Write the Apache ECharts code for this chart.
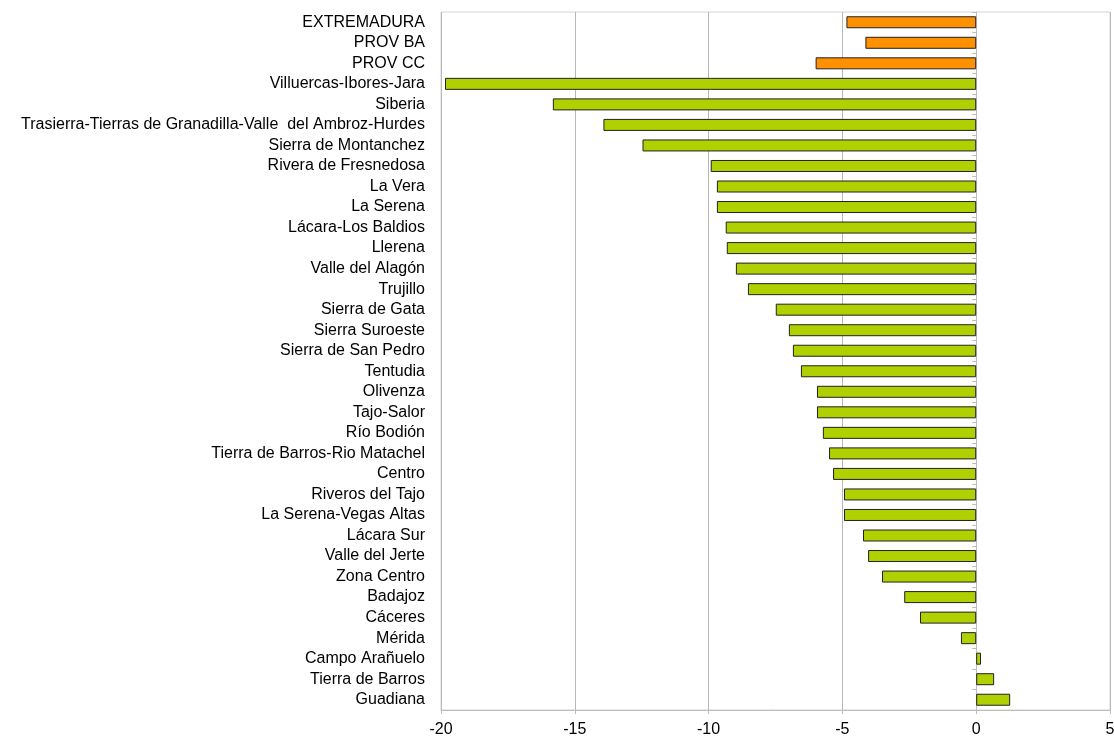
<!DOCTYPE html>
<html><head><meta charset="utf-8">
<script src="https://cdn.jsdelivr.net/npm/echarts@6/dist/echarts.min.js"></script>
<style>html,body{margin:0;padding:0;background:#fff}#c{width:1114px;height:740px}</style>
</head><body><div id="c"></div>
<script>
const categories = ["EXTREMADURA","PROV BA","PROV CC","Villuercas-Ibores-Jara","Siberia","Trasierra-Tierras de Granadilla-Valle  del Ambroz-Hurdes","Sierra de Montanchez","Rivera de Fresnedosa","La Vera","La Serena","Lácara-Los Baldios","Llerena","Valle del Alagón","Trujillo","Sierra de Gata","Sierra Suroeste","Sierra de San Pedro","Tentudia","Olivenza","Tajo-Salor","Río Bodión","Tierra de Barros-Rio Matachel","Centro","Riveros del Tajo","La Serena-Vegas Altas","Lácara Sur","Valle del Jerte","Zona Centro","Badajoz","Cáceres","Mérida","Campo Arañuelo","Tierra de Barros","Guadiana"];
const values = [-4.85,-4.14,-6.0,-19.85,-15.82,-13.93,-12.47,-9.92,-9.69,-9.69,-9.36,-9.32,-8.98,-8.53,-7.49,-7.0,-6.85,-6.55,-5.95,-5.95,-5.73,-5.5,-5.35,-4.94,-4.94,-4.23,-4.04,-3.52,-2.69,-2.1,-0.57,0.18,0.67,1.27];
const highlighted = ["EXTREMADURA","PROV BA","PROV CC"];
const xTicks = {min:-20, max:5, interval:5};

const chart = echarts.init(document.getElementById('c'));
chart.setOption({
  animation:false,
  grid:{left:441, right:4, top:12, bottom:30, outerBoundsMode:'none', containLabel:false, show:true, borderColor:'#d4d4d4', borderWidth:1},
  xAxis:{type:'value', min:xTicks.min, max:xTicks.max, interval:xTicks.interval,
    axisLine:{show:true, onZero:false, lineStyle:{color:'#bdbdbd'}},
    axisTick:{show:true, length:4, lineStyle:{color:'#bdbdbd'}},
    axisLabel:{color:'#000', fontFamily:'Liberation Sans, Arial', fontSize:16, margin:12},
    splitLine:{show:true, lineStyle:{color:'#b8b8b8'}}},
  yAxis:[
    {type:'category', data:categories, inverse:true, position:'left',
      axisLine:{show:false, onZero:false}, axisTick:{show:false},
      axisLabel:{interval:0, hideOverlap:false, color:'#000', fontFamily:'Liberation Sans, Arial', fontSize:16, margin:16}},
    {type:'category', data:categories, inverse:true, position:'left',
      axisLine:{show:true, onZero:true, lineStyle:{color:'#bdbdbd'}},
      axisTick:{show:true, interval:0, length:4, lineStyle:{color:'#bdbdbd'}},
      axisLabel:{show:false}}
  ],
  series:[{type:'bar', yAxisIndex:0, barWidth:12,
    data: values.map((v,i)=>({value:v, itemStyle:{color: highlighted.includes(categories[i]) ? '#ff9000' : '#b0d000'}})),
    itemStyle:{borderColor:'#222', borderWidth:1}
  }]
});
</script></body></html>
